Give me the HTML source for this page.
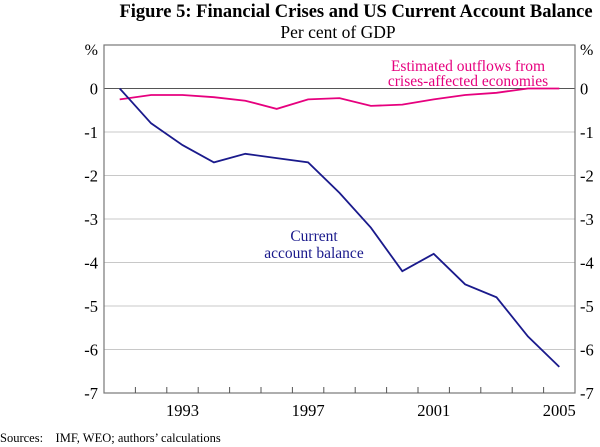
<!DOCTYPE html>
<html><head><meta charset="utf-8"><style>
body{margin:0;background:#fff;}
svg{display:block;font-family:"Liberation Serif",serif;}
</style></head><body>
<svg id="chart" width="600" height="447" viewBox="0 0 600 447">
<text x="356" y="17" text-anchor="middle" font-weight="bold" font-size="18.5">Figure 5: Financial Crises and US Current Account Balance</text>
<text x="338" y="38" text-anchor="middle" font-size="17.5">Per cent of GDP</text>
<g id="grid"></g>
<g id="axes"></g>
<g id="series"></g>
<text x="468" y="71" text-anchor="middle" font-size="15.5" fill="#e6007e">Estimated outflows from</text>
<text x="468" y="86" text-anchor="middle" font-size="15.5" fill="#e6007e">crises-affected economies</text>
<text x="314" y="241" text-anchor="middle" font-size="15.5" fill="#1a1a8c">Current</text>
<text x="314" y="258" text-anchor="middle" font-size="15.5" fill="#1a1a8c">account balance</text>
<text x="0" y="442" font-size="12.5" xml:space="preserve">Sources:    IMF, WEO; authors’ calculations</text>
</svg>
<script>
const years=[1991,1992,1993,1994,1995,1996,1997,1998,1999,2000,2001,2002,2003,2004,2005];
const currentAccount=[0,-0.8,-1.3,-1.7,-1.5,-1.6,-1.7,-2.4,-3.2,-4.2,-3.8,-4.5,-4.8,-5.7,-6.4];
const outflows=[-0.25,-0.15,-0.15,-0.2,-0.28,-0.47,-0.25,-0.22,-0.4,-0.37,-0.25,-0.15,-0.1,0,0];
const yTicks=[0,-1,-2,-3,-4,-5,-6,-7];
const xTickLabels=[1993,1997,2001,2005];
const L=104,R=575,T=45,B=393,yMax=1,yMin=-7;
const slot=(R-L)/years.length;
function x(yr){return L+(yr-years[0]+0.5)*slot;}
function y(v){return T+(yMax-v)/(yMax-yMin)*(B-T);}
const NS="http://www.w3.org/2000/svg";
function mk(tag,attrs,parent){const e=document.createElementNS(NS,tag);for(const k in attrs)e.setAttribute(k,attrs[k]);parent.appendChild(e);return e;}
const grid=document.getElementById('grid'),axes=document.getElementById('axes'),series=document.getElementById('series');
yTicks.forEach(v=>{
  if(v!==0&&v!==yMin){const g=mk('line',{x1:L,x2:R,y1:y(v),y2:y(v),stroke:'#c8c8c8','stroke-width':1},grid);
  
  }
  const t1=mk('text',{x:L-6,y:y(v)+6,'text-anchor':'end','font-size':16.5},axes);t1.textContent=v;
  
  
  const t2=mk('text',{x:R+5,y:y(v)+6,'font-size':16.5},axes);t2.textContent=v;
  
  
});
const p1=mk('text',{x:L-6,y:55,'text-anchor':'end','font-size':16},axes);p1.textContent='%';


const p2=mk('text',{x:R+5,y:55,'font-size':16},axes);p2.textContent='%';


const zl=mk('line',{x1:L,x2:R,y1:y(0),y2:y(0),stroke:'#555','stroke-width':1},axes);


const fr=mk('rect',{x:L,y:T,width:R-L,height:B-T,fill:'none',stroke:'#777','stroke-width':1.2},axes);


for(let i=1;i<years.length;i++){const xx=L+i*slot;const tk=mk('line',{x1:xx,x2:xx,y1:B,y2:B-6,stroke:'#555'},axes);

}
xTickLabels.forEach(yr=>{const t=mk('text',{x:x(yr),y:416,'text-anchor':'middle','font-size':16.5},axes);t.textContent=yr;

});
function line(vals,color,name){const d=vals.map((v,i)=>(i?'L':'M')+x(years[i]).toFixed(1)+','+y(v).toFixed(1)).join(' ');
const p=mk('path',{d:d,fill:'none',stroke:color,'stroke-width':1.8},series);

}
line(outflows,'#e6007e','outflows-line');
line(currentAccount,'#1a1a8c','current-account-line');
</script>
</body></html>
